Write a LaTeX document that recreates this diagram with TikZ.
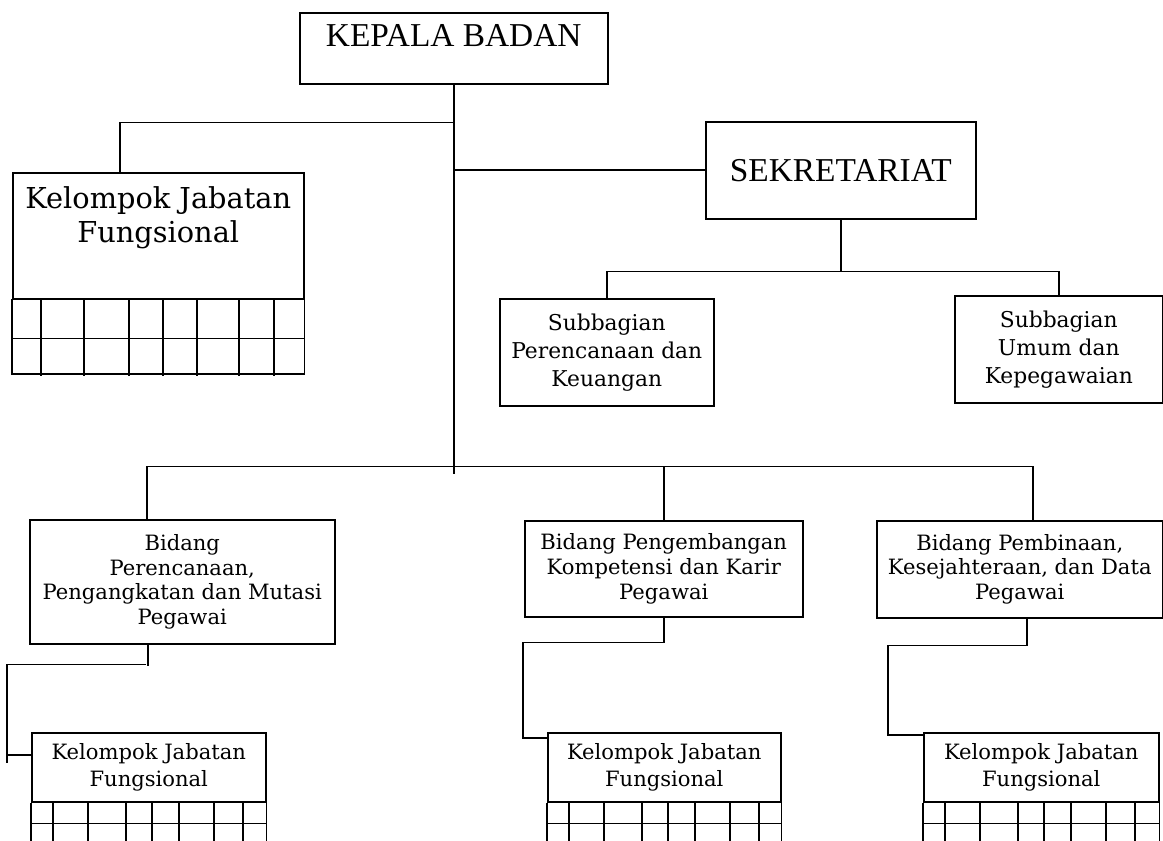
\documentclass[tikz,border=0pt]{standalone}
\usepackage{fontspec}
\setmainfont{DejaVu Serif}
\newfontfamily\titlefont{Liberation Serif}
\usetikzlibrary{calc,positioning}

\begin{document}
\begin{tikzpicture}[
    x=0.02cm, y=-0.02cm, line width=0.9pt,
    box/.style={draw, rectangle, inner sep=0, anchor=north west},
    title/.style={font=\titlefont\fontsize{19}{22}\selectfont},
    small/.style={align=center, font=\fontsize{12}{14}\selectfont},
    sub/.style={align=center, font=\fontsize{12.4}{16}\selectfont},
    kjfs/.style={box, minimum height=1.38cm, align=center, font=\fontsize{12}{15}\selectfont},
  ]
  \useasboundingbox (0,0) rectangle (1163,841);

  % top nodes
  \node[box, minimum width=6.16cm, minimum height=1.42cm] (kb) at (299,12) {};
  \node[title, inner sep=0, below=0.24cm of kb.north] (kbtext) {KEPALA BADAN};

  \node[box, minimum width=5.82cm, minimum height=2.52cm] (kjf) at (12,172) {};
  \node[inner sep=0, align=center, font=\fontsize{16.4}{19.3}\selectfont, below=0.28cm of kjf.north] (kjftext) {Kelompok Jabatan\\Fungsional};

  \node[box, title, minimum width=5.4cm, minimum height=1.94cm] (sek) at (705,121) {SEKRETARIAT};

  % subbagian nodes
  \node[box, sub, minimum width=4.28cm, minimum height=2.14cm] (spk) at (499,298) {Subbagian\\Perencanaan dan\\Keuangan};
  \node[box, sub, minimum width=4.16cm, minimum height=2.14cm] (suk) at (954,295) {Subbagian\\Umum dan\\Kepegawaian};

  % bidang nodes
  \node[box, small, minimum width=6.1cm, minimum height=2.48cm] (bpm) at (29,519) {Bidang\\Perencanaan,\\Pengangkatan dan Mutasi\\Pegawai};
  \node[box, small, minimum width=5.56cm, minimum height=1.92cm] (bpk) at (524,520) {Bidang Pengembangan\\Kompetensi dan Karir\\Pegawai};
  \node[box, small, minimum width=5.72cm, minimum height=1.94cm] (bpd) at (876,520) {Bidang Pembinaan,\\Kesejahteraan, dan Data\\Pegawai};

  % kelompok jabatan fungsional under each bidang
  \node[kjfs, minimum width=4.68cm] (k1) at (31,732) {Kelompok Jabatan\\Fungsional};
  \node[kjfs, minimum width=4.66cm] (k2) at (547,732) {Kelompok Jabatan\\Fungsional};
  \node[kjfs, minimum width=4.7cm] (k3) at (923,732) {Kelompok Jabatan\\Fungsional};

  % grids
  \draw (kjf.south west) rectangle (kjf.south east |- 0,374);
  \draw ($(kjf.south west)+(0,39)$) -- ($(kjf.south east)+(0,39)$);
  \foreach \c in {29,72,117,151,185,227,262}
    \draw ($(kjf.south west)+(\c,0)$) -- ++(0,76);

  \foreach \k in {k1,k2,k3} {
    \draw (\k.south west) -- ++(0,45);
    \draw (\k.south east) -- ++(0,45);
    \draw ($(\k.south west)+(0,21)$) -- ($(\k.south east)+(0,21)$);
    \foreach \c in {22,57,95,121,148,183,212}
      \draw ($(\k.south west)+(\c,0)$) -- ++(0,45);
  }

  % lines from kepala badan
  \draw (kb.south) -- ++(0,389) coordinate (tend);
  \draw (kb.south) ++(0,38) coordinate (ljoin) -| ($(kjf.north west)+(108,0)$);
  \draw (sek.west) -- (sek.west -| kb.south);

  % sekretariat to subbagian
  \draw (sek.south) -- ++(0,52) coordinate (sbus);
  \draw (spk.north) |- (sbus) -| (suk.north);

  % bidang line
  \coordinate (bbus) at ($(kb.south)+(0,382)$);
  \draw ($(bpm.north west)+(118,0)$) |- (bbus) -| ($(bpd.north west)+(157,0)$);
  \draw (bpk.north) -- (bpk.north |- bbus);

  % bidang to kelompok
  \draw ($(bpm.south west)+(119,0)$) -- ++(0,21) coordinate (b1);
  \draw (b1) ++(-2,-1) -| ($(k1.north west)+(-24,31)$);
  \draw ($(k1.north west)+(0,23)$) -- ++(-24,0);
  \draw (bpk.south) -- ++(0,25) -| ($(k2.north west)+(-24,6)$) -- ($(k2.north west)+(0,6)$);
  \draw ($(bpd.south west)+(151,0)$) -- ++(0,27) -| ($(k3.north west)+(-35,3)$) -- ($(k3.north west)+(0,3)$);

\end{tikzpicture}
\end{document}
